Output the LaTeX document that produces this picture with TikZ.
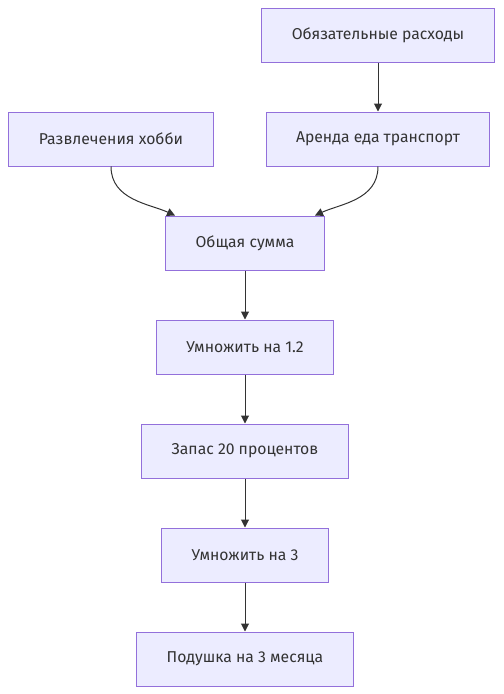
\documentclass[tikz,border=0pt]{standalone}
\usepackage{fontspec}
\setmainfont{Fira Sans}
\usetikzlibrary{arrows.meta}
\usetikzlibrary{positioning}
\definecolor{mfill}{HTML}{ECECFF}
\definecolor{mline}{HTML}{9370DB}
\definecolor{marrow}{HTML}{333333}
\tikzset{box/.style = {draw = mline, fill = mfill, line width = 0.75pt, minimum height = 40.5pt, inner xsep = 22.5pt, font = \fontsize{11.8}{13}\selectfont, text = marrow}}
\tikzset{link/.style = {draw = marrow, line width = 0.75pt, -{Triangle[length = 6pt, width = 6pt]}}}

\begin{document}
\begin{tikzpicture}[x = 0.75pt, y = -0.75pt]
    \useasboundingbox (0, 0) rectangle (504, 694);

    \node [box] (must) at (378, 35) {Обязательные расходы};
    \node [box] (fun) at (111, 139) {Развлечения хобби};
    \node [box] (rent) at (378, 139) {Аренда еда транспорт};
    \node [box] (sum) at (245, 243) {Общая сумма};
    \node [box] (mula) at (245, 347) {Умножить на 1.2};
    \node [box] (res) at (245, 451) {Запас 20 процентов};
    \node [box] (mulb) at (245, 555) {Умножить на 3};
    \node [box] (pad) at (245, 659) {Подушка на 3 месяца};

    \draw [link] (must) -- (rent);
    \draw [link] (fun.south) .. controls (111, 200) and (150, 204) .. ([xshift = -52.5pt] sum.north);
    \draw [link] (rent.south) .. controls (378, 200) and (340, 204) .. ([xshift = 52.5pt] sum.north);
    \draw [link] (sum) -- (mula);
    \draw [link] (mula) -- (res);
    \draw [link] (res) -- (mulb);
    \draw [link] (mulb) -- (pad);
  \end{tikzpicture}
\end{document}
